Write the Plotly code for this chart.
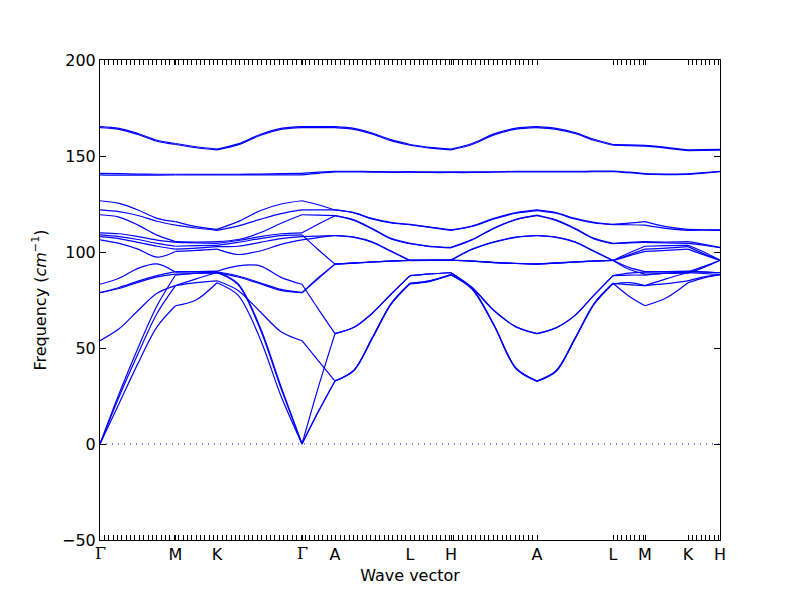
import numpy as np
import plotly.graph_objects as go

# k-path distance of each sampled point (same units as the chart's x axis)
kdist = [0, 19, 38, 57, 75.5, 96, 117, 138, 160, 181, 202, 218, 235, 254, 272, 291, 310,
         330, 351, 372, 394, 416, 437, 456, 475, 494, 513, 529, 545, 566, 588, 604, 620]
# indices of high-symmetry points in kdist
sym_idx = [0, 4, 6, 10, 12, 16, 18, 22, 26, 28, 30, 32]
sym_labels = ["Γ", "M", "K", "Γ", "A", "L", "H", "A", "L", "M", "K", "H"]

# phonon frequencies (cm^-1), one list per band, at kdist
top1 = [165.3, 164.4, 161.7, 158.2, 156.5, 154.8, 153.6, 156.3, 161.2, 164.4, 165.3, 165.3, 165.3,
        164.4, 162.0, 158.5, 156.0, 154.5, 153.6, 156.5, 161.5, 164.5, 165.3, 164.4, 162.2, 158.7,
        156.0, 155.8, 155.5, 154.5, 153.2, 153.3, 153.4]
top2 = [164.8, 163.9, 161.2, 157.7, 156.0, 154.3, 153.2, 155.8, 160.7, 163.9, 164.8, 164.8, 164.8,
        163.9, 161.5, 158.0, 155.6, 154.1, 153.2, 156.0, 161.0, 164.0, 164.8, 163.9, 161.7, 158.2,
        155.6, 155.4, 155.1, 154.1, 152.8, 152.9, 153.0]
opt140a = [140.2, 140.0, 140.0, 140.0, 140.1, 140.2, 140.2, 140.2, 140.2, 140.2, 140.2, 141.0, 141.7,
           141.7, 141.6, 141.5, 141.6, 141.4, 141.4, 141.4, 141.6, 141.7, 141.7, 141.7, 141.7, 141.8,
           141.9, 141.3, 140.5, 140.3, 140.4, 141.1, 141.8]
opt140b = [141.0, 140.8, 140.6, 140.5, 140.5, 140.5, 140.5, 140.5, 140.6, 140.8, 141.0, 141.6, 142.0,
           142.0, 141.9, 141.8, 141.9, 141.7, 141.7, 141.7, 141.8, 142.0, 142.0, 142.0, 142.0, 142.1,
           142.2, 141.6, 140.8, 140.6, 140.7, 141.4, 142.0]
band_a = [126.7, 125.3, 121.9, 117.5, 115.8, 113.2, 111.8, 115.8, 121.5, 125.0, 126.7, 124.6, 121.9,
          120.5, 117.5, 115.4, 114.4, 113.0, 111.5, 113.5, 117.5, 120.5, 121.9, 120.5, 117.5, 115.4,
          114.4, 115.0, 115.8, 113.2, 111.8, 111.6, 111.5]
band_b = [121.9, 121.0, 119.0, 116.0, 114.0, 112.5, 111.3, 113.5, 117.0, 120.0, 121.9, 121.9, 121.9,
          120.3, 117.2, 115.1, 114.2, 112.8, 111.3, 113.3, 117.2, 120.2, 121.6, 120.2, 117.2, 115.1,
          114.2, 114.2, 114.0, 112.3, 111.3, 111.4, 111.3]
band_c = [119.4, 118.2, 114.0, 108.8, 105.4, 105.2, 105.4, 106.5, 110.0, 115.0, 119.4, 119.2, 118.9,
          116.7, 112.3, 107.1, 104.5, 103.0, 102.4, 106.5, 112.5, 117.0, 119.2, 116.7, 112.3, 107.1,
          104.5, 105.0, 105.4, 105.2, 105.4, 104.0, 102.4]
band_d1 = [110.0, 109.5, 108.0, 106.2, 105.0, 104.8, 104.5, 106.0, 108.0, 109.5, 110.0, 114.5, 118.9,
           116.4, 112.0, 106.8, 104.3, 102.8, 102.2, 106.3, 112.3, 116.8, 118.9, 116.4, 112.0, 106.8,
           104.3, 104.8, 105.0, 104.8, 104.5, 103.5, 102.2]
band_d2 = [108.9, 108.0, 106.5, 104.5, 103.0, 103.3, 103.5, 105.0, 107.0, 108.5, 108.9, 101.3, 93.7,
           94.2, 94.8, 95.2, 95.6, 95.7, 95.7, 95.2, 94.5, 94.0, 93.7, 94.2, 94.8, 95.2,
           95.6, 99.5, 103.0, 103.3, 103.5, 100.0, 95.7]
band_d3 = [108.0, 107.0, 105.0, 103.0, 101.5, 102.0, 102.8, 103.0, 105.0, 107.0, 108.0, 108.3, 108.6,
           107.8, 105.3, 100.5, 95.6, 95.7, 95.8, 101.5, 105.3, 107.8, 108.6, 107.8, 105.3, 100.5,
           95.6, 98.5, 101.5, 102.0, 102.8, 99.0, 95.8]
band_d4 = [106.3, 104.5, 101.5, 97.3, 100.3, 100.8, 101.5, 98.7, 100.5, 104.0, 106.3, 107.5, 108.5,
           107.6, 105.1, 100.3, 95.5, 95.6, 95.7, 101.3, 105.1, 107.6, 108.5, 107.6, 105.1, 100.3,
           95.5, 98.0, 100.3, 100.8, 101.5, 98.5, 95.7]
band_e = [83.2, 86.3, 91.5, 93.8, 89.5, 89.8, 90.0, 92.8, 92.8, 86.8, 83.2, 70.5, 57.5,
          60.8, 68.0, 78.0, 87.7, 88.6, 89.2, 81.5, 69.5, 61.0, 57.5, 60.5, 67.0, 77.5,
          87.7, 89.0, 89.5, 89.8, 90.0, 89.6, 89.2]
band_f1 = [78.8, 81.5, 84.8, 87.7, 89.8, 89.7, 89.7, 87.5, 84.0, 80.5, 78.8, 86.5, 93.7,
           94.3, 94.9, 95.3, 95.7, 95.8, 95.8, 95.3, 94.6, 94.1, 93.8, 94.3, 94.9, 95.3,
           95.7, 92.0, 89.8, 89.7, 89.7, 92.5, 95.7]
band_f2 = [78.8, 81.0, 84.2, 87.0, 88.5, 88.8, 89.0, 87.0, 83.5, 80.0, 78.8, 86.0, 93.7,
           94.2, 94.8, 95.2, 95.6, 95.7, 95.7, 95.2, 94.5, 94.0, 93.7, 94.2, 94.8, 95.2,
           95.6, 91.0, 88.5, 88.8, 89.0, 92.0, 95.6]
band_g = [53.8, 60.0, 69.5, 78.5, 82.5, 84.0, 85.0, 80.0, 69.0, 58.5, 53.8, 43.5, 32.8,
          38.5, 55.0, 73.0, 83.7, 85.0, 88.2, 81.0, 62.0, 39.5, 32.8, 38.0, 55.0, 73.0,
          83.7, 83.0, 82.5, 83.5, 85.0, 87.0, 88.2]
band_h = [0.0, 21.0, 42.0, 61.0, 72.0, 75.0, 84.0, 77.5, 55.0, 25.0, 0.0, 16.5, 32.8,
          38.5, 55.0, 73.0, 83.7, 85.0, 88.2, 81.0, 62.0, 39.5, 32.8, 38.0, 55.0, 73.0,
          83.7, 77.0, 72.0, 76.0, 84.0, 86.5, 88.2]
band_i = [0.0, 24.5, 47.0, 68.0, 82.5, 86.0, 89.3, 83.0, 60.0, 29.0, 0.0, 16.5, 32.8,
          38.2, 54.7, 72.7, 83.4, 84.7, 88.0, 80.7, 61.7, 39.2, 32.6, 37.7, 54.7, 72.7,
          83.4, 84.0, 82.5, 86.0, 89.3, 88.8, 88.2]
band_j = [0.0, 26.0, 50.0, 72.0, 88.0, 89.0, 89.7, 83.5, 61.0, 30.0, 0.0, 29.0, 57.5,
          60.8, 68.0, 78.0, 87.7, 88.6, 89.2, 81.5, 69.5, 61.0, 57.5, 60.5, 67.0, 77.5,
          87.7, 88.0, 88.0, 89.0, 89.7, 89.5, 89.2]

bands = [top1, top2, opt140a, opt140b, band_a, band_b, band_c, band_d1, band_d2, band_d3,
         band_d4, band_e, band_f1, band_f2, band_g, band_h, band_i, band_j]

BLUE = "#0000ff"
fig = go.Figure()
for band in bands:
    xs, ys = [], []
    for s0, s1 in zip(sym_idx[:-1], sym_idx[1:]):
        xs += kdist[s0:s1 + 1] + [None]
        ys += band[s0:s1 + 1] + [None]
    fig.add_trace(go.Scatter(x=xs, y=ys, mode="lines", connectgaps=False,
                             line=dict(color=BLUE, width=1.2, shape="spline", smoothing=0.9),
                             showlegend=False, hoverinfo="skip"))

fig.add_hline(y=0, line=dict(color=BLUE, width=1, dash="1px,5px"))

sym_x = [kdist[i] for i in sym_idx]
# Γ is drawn in a serif face (as in the mathtext original) via annotations; others as tick text
sans_x = [xv for xv, t in zip(sym_x, sym_labels) if t != "Γ"]
sans_t = [t for t in sym_labels if t != "Γ"]
gamma_x = [xv for xv, t in zip(sym_x, sym_labels) if t == "Γ"]
for xv in gamma_x:
    fig.add_annotation(x=xv, xref="x", y=0, yref="paper", yanchor="top", yshift=-2,
                       text="Γ", showarrow=False,
                       font=dict(family="DejaVu Serif", size=16, color="black"))

# dense minor tick marks along the k axis (plus the Γ positions)
minor_vals = (list(np.arange(0, 437.5, 4.37)) + list(np.arange(513, 545.5, 4.37))
              + list(np.arange(588, 620.5, 4.37)) + gamma_x)

font = dict(family="DejaVu Sans", size=16, color="black")
# the page adds an 8px body margin, so the figure is 792x592 to fill the 800x600 window
fig.update_layout(
    width=792, height=592,
    margin=dict(l=92, r=80, t=52, b=60),
    paper_bgcolor="white", plot_bgcolor="white",
    font=font,
    xaxis=dict(range=[0, 620], tickmode="array", tickvals=sans_x, ticktext=sans_t,
               ticks="inside", ticklen=5, tickcolor="black", showgrid=False, zeroline=False,
               showline=True, linecolor="black", linewidth=1, mirror="ticks", automargin=False,
               minor=dict(tickvals=minor_vals, ticks="inside", ticklen=5, tickcolor="black",
                          showgrid=False),
               title=dict(text="Wave vector", font=font, standoff=6),
               tickfont=font),
    yaxis=dict(range=[-50, 200], tickmode="array", tickvals=[-50, 0, 50, 100, 150, 200],
               ticks="inside", ticklen=6, tickcolor="black", showgrid=False, zeroline=False,
               showline=True, linecolor="black", linewidth=1, mirror="ticks", automargin=False,
               title=dict(text="Frequency (<i>cm</i><sup>−1</sup>)", font=font, standoff=11),
               tickfont=font),
)

fig.write_html("out.html")
